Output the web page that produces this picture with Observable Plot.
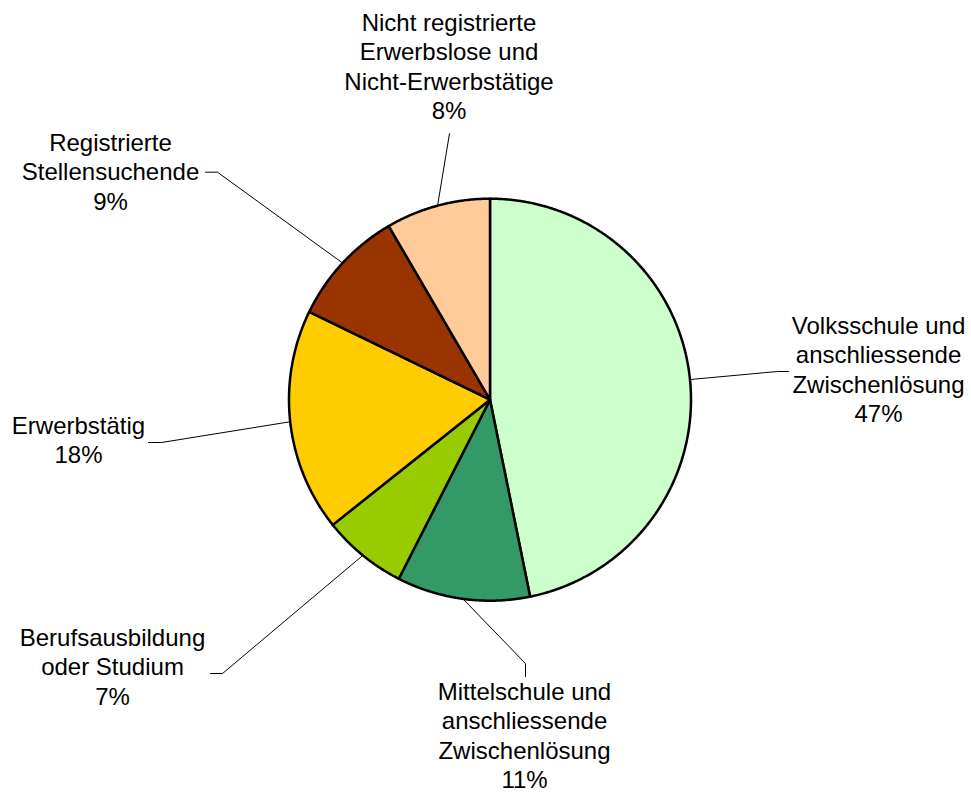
<!DOCTYPE html>
<html>
<head>
<meta charset="utf-8">
<script src="https://cdn.jsdelivr.net/npm/d3@7"></script>
<script src="https://cdn.jsdelivr.net/npm/@observablehq/plot@0.6"></script>
<style>
  html, body { margin: 0; padding: 0; background: #fff; }
  #chart svg { display: block; }
</style>
</head>
<body>
<div id="chart"></div>
<script>
// ---- data ----
const categories = [
  "Volksschule und\nanschliessende\nZwischenlösung",
  "Mittelschule und\nanschliessende\nZwischenlösung",
  "Berufsausbildung\noder Studium",
  "Erwerbstätig",
  "Registrierte\nStellensuchende",
  "Nicht registrierte\nErwerbslose und\nNicht-Erwerbstätige"
];
const shares = [46.8, 10.7, 6.8, 17.9, 9.4, 8.4];
const percentLabels = ["47%", "11%", "7%", "18%", "9%", "8%"];

// ---- style / layout ----
const colors = ["#CCFFCC", "#339966", "#99CC00", "#FFCC00", "#993300", "#FFCC99"];
const W = 971, H = 794;
const cx = 489.5, cy = 399.2, R = 201;
const labelX = [878, 524, 112, 78, 110, 448.5];
const labelTop = [312, 678, 624, 412, 129, 9];
const leaderEnd = [[788, 371], [525, 676], [210, 673], [148, 442], [205, 171.7], [449, 133]];
const leaderElbow = [[777, 371], [525, 663], [222, 673], [161, 442], [217, 171.7], [449, 133]];

// ---- geometry from data ----
const arcs = d3.pie().sort(null).value(d => d)(shares);
const slicePts = [];
arcs.forEach((a, i) => {
  const name = categories[i];
  slicePts.push({name, x: cx, y: cy});
  const n = Math.max(2, Math.ceil((a.endAngle - a.startAngle) / 0.005));
  for (let k = 0; k <= n; k++) {
    const t = a.startAngle + (a.endAngle - a.startAngle) * k / n;
    slicePts.push({name, x: cx + R * Math.sin(t), y: cy - R * Math.cos(t)});
  }
  slicePts.push({name, x: cx, y: cy});
});

const leaderPts = [];
arcs.forEach((a, i) => {
  const m = (a.startAngle + a.endAngle) / 2;
  leaderPts.push({id: i, x: leaderEnd[i][0], y: leaderEnd[i][1]});
  leaderPts.push({id: i, x: leaderElbow[i][0], y: leaderElbow[i][1]});
  leaderPts.push({id: i, x: cx + R * Math.sin(m), y: cy - R * Math.cos(m)});
});

const labels = categories.map((c, i) => ({
  text: c + "\n" + percentLabels[i], x: labelX[i], y: labelTop[i]
}));

const chart = Plot.plot({
  width: W,
  height: H,
  margin: 0,
  style: {background: "#fff", fontFamily: "'Liberation Sans', Arial, sans-serif"},
  x: {domain: [0, W], range: [0, W], axis: null},
  y: {domain: [0, H], range: [0, H], axis: null},
  color: {domain: categories, range: colors},
  marks: [
    Plot.line(leaderPts, {x: "x", y: "y", z: "id", stroke: "#000", strokeWidth: 1, curve: "linear"}),
    Plot.line(slicePts, {x: "x", y: "y", z: "name", fill: "name", stroke: "#000", strokeWidth: 2.5, curve: "linear", strokeLinejoin: "round"}),
    Plot.text(labels, {
      x: "x", y: "y", text: "text",
      fontSize: 24, lineHeight: 1.235, lineAnchor: "top", textAnchor: "middle",
      fill: "#000", fontFamily: "'Liberation Sans', Arial, sans-serif"
    })
  ]
});
document.getElementById("chart").appendChild(chart);
</script>
</body>
</html>
